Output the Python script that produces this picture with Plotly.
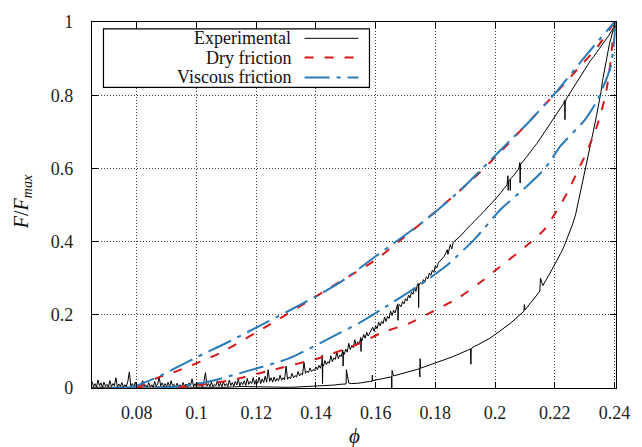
import plotly.graph_objects as go

# ---------------- data ----------------
# Experimental loop: loading branch (phi increasing), then unloading branch
EXP_LOADING = [
    (0.065, 0.018), (0.0655, 0.004), (0.066, 0.012), (0.0665, 0.003), (0.067, 0.022), (0.0675, 0.006),
    (0.068, 0.014), (0.0685, 0.002), (0.069, 0.016), (0.0695, 0.005), (0.070, 0.01), (0.0705, 0.003),
    (0.071, 0.02), (0.0715, 0.004), (0.072, 0.012), (0.0725, 0.006), (0.073, 0.028), (0.0735, 0.003),
    (0.074, 0.011), (0.0745, 0.004), (0.075, 0.015), (0.0755, 0.002), (0.076, 0.009), (0.0765, 0.004),
    (0.077, 0.018), (0.0775, 0.044), (0.078, 0.005), (0.0785, 0.012), (0.079, 0.003), (0.0795, 0.016),
    (0.080, 0.004), (0.0805, 0.01), (0.081, 0.002), (0.0815, 0.014), (0.082, 0.02), (0.0825, 0.005),
    (0.083, 0.008), (0.0835, 0.003), (0.084, 0.015), (0.0845, 0.004), (0.085, 0.009), (0.0855, 0.002),
    (0.086, 0.018), (0.0865, 0.005), (0.087, 0.011), (0.0875, 0.03), (0.088, 0.006), (0.0885, 0.014),
    (0.089, 0.003), (0.0895, 0.012), (0.090, 0.004), (0.0905, 0.016), (0.091, 0.003), (0.0915, 0.02),
    (0.092, 0.006), (0.0925, 0.01), (0.093, 0.002), (0.0935, 0.013), (0.094, 0.005), (0.0945, 0.009),
    (0.095, 0.002), (0.0955, 0.015), (0.096, 0.004), (0.0965, 0.011), (0.097, 0.003), (0.0975, 0.014),
    (0.098, 0.006), (0.0985, 0.025), (0.099, 0.004), (0.0995, 0.012), (0.100, 0.003), (0.1005, 0.015),
    (0.101, 0.005), (0.1015, 0.01), (0.102, 0.002), (0.1025, 0.018), (0.103, 0.042), (0.1035, 0.005),
    (0.104, 0.012), (0.1045, 0.004), (0.105, 0.016), (0.1055, 0.003), (0.106, 0.01), (0.1065, 0.006),
    (0.107, 0.02), (0.1075, 0.005), (0.108, 0.013), (0.1085, 0.004), (0.109, 0.017), (0.1095, 0.006),
    (0.110, 0.012), (0.1105, 0.004), (0.111, 0.022), (0.1115, 0.007), (0.112, 0.015), (0.1125, 0.005),
    (0.113, 0.018), (0.1135, 0.008), (0.114, 0.024), (0.1145, 0.006), (0.115, 0.016), (0.1155, 0.009),
    (0.116, 0.02), (0.1165, 0.007), (0.117, 0.026), (0.1175, 0.01), (0.118, 0.018), (0.1185, 0.012),
    (0.119, 0.028), (0.1195, 0.01), (0.120, 0.022), (0.1205, 0.013), (0.121, 0.03), (0.1215, 0.012),
    (0.122, 0.025), (0.1225, 0.015), (0.123, 0.032), (0.1235, 0.016), (0.124, 0.05), (0.1245, 0.018),
    (0.125, 0.028), (0.1255, 0.016), (0.126, 0.03), (0.1265, 0.018), (0.127, 0.026), (0.1275, 0.02),
    (0.128, 0.035), (0.1285, 0.021), (0.129, 0.028), (0.1295, 0.022), (0.130, 0.06), (0.1305, 0.024),
    (0.131, 0.03), (0.1315, 0.026), (0.132, 0.04), (0.1325, 0.028), (0.133, 0.034), (0.1335, 0.03),
    (0.134, 0.045), (0.1345, 0.033), (0.135, 0.04), (0.1355, 0.036), (0.136, 0.07), (0.1365, 0.04),
    (0.137, 0.046), (0.1375, 0.042), (0.138, 0.055), (0.1385, 0.045), (0.139, 0.05), (0.1395, 0.048),
    (0.140, 0.058), (0.1405, 0.05), (0.141, 0.062), (0.1415, 0.054), (0.142, 0.07),
    (0.1421, 0.09), (0.1422, 0.012), (0.1423, 0.065), (0.1425, 0.06), (0.143, 0.075), (0.1435, 0.064),
    (0.144, 0.072), (0.1445, 0.068), (0.145, 0.088), (0.1455, 0.072), (0.146, 0.082), (0.1465, 0.078),
    (0.147, 0.098), (0.1475, 0.08), (0.148, 0.09), (0.1485, 0.086), (0.149, 0.104), (0.1491, 0.06),
    (0.1492, 0.098), (0.1495, 0.092), (0.150, 0.106), (0.1505, 0.098), (0.151, 0.122), (0.1515, 0.105),
    (0.152, 0.116), (0.1525, 0.11), (0.153, 0.132), (0.1535, 0.115), (0.154, 0.126), (0.1545, 0.12),
    (0.155, 0.138), (0.1551, 0.1), (0.1552, 0.134), (0.1555, 0.13), (0.156, 0.146), (0.1565, 0.136),
    (0.157, 0.152), (0.1575, 0.142), (0.158, 0.15), (0.1585, 0.158), (0.159, 0.166), (0.1595, 0.155),
    (0.160, 0.17), (0.1605, 0.162), (0.161, 0.18), (0.1615, 0.17), (0.162, 0.182), (0.1625, 0.176),
    (0.163, 0.194), (0.1635, 0.182), (0.164, 0.196), (0.1645, 0.19), (0.165, 0.21), (0.1655, 0.198),
    (0.166, 0.212), (0.1665, 0.205), (0.167, 0.224), (0.1674, 0.23), (0.1675, 0.185), (0.1676, 0.222),
    (0.168, 0.228), (0.1685, 0.222), (0.169, 0.236), (0.1695, 0.23), (0.170, 0.244), (0.1705, 0.238),
    (0.171, 0.254), (0.1715, 0.246), (0.172, 0.262), (0.1725, 0.256), (0.173, 0.274), (0.1735, 0.264),
    (0.174, 0.283), (0.1743, 0.286), (0.1744, 0.22), (0.1745, 0.28), (0.175, 0.288), (0.1755, 0.284),
    (0.176, 0.296), (0.1765, 0.29), (0.177, 0.304), (0.1775, 0.298), (0.178, 0.314), (0.1785, 0.308),
    (0.179, 0.322), (0.1795, 0.316), (0.180, 0.334), (0.1805, 0.328), (0.181, 0.342), (0.182, 0.352),
    (0.183, 0.36),
    (0.184, 0.378), (0.1842, 0.365), (0.185, 0.392), (0.1855, 0.38), (0.186, 0.398), (0.187, 0.405),
    (0.188, 0.414), (0.189, 0.42), (0.190, 0.43), (0.191, 0.44), (0.192, 0.447), (0.193, 0.455),
    (0.194, 0.465), (0.195, 0.472), (0.196, 0.48), (0.197, 0.49), (0.198, 0.498), (0.199, 0.506),
    (0.200, 0.515), (0.201, 0.524), (0.202, 0.534), (0.203, 0.545), (0.204, 0.555), (0.2043, 0.58),
    (0.2044, 0.54), (0.2045, 0.565), (0.205, 0.57), (0.2051, 0.54), (0.2052, 0.572), (0.206, 0.578),
    (0.207, 0.588), (0.208, 0.6), (0.2083, 0.616), (0.2084, 0.56), (0.2085, 0.612), (0.209, 0.615),
    (0.210, 0.625), (0.211, 0.635), (0.212, 0.646), (0.213, 0.656), (0.214, 0.668), (0.215, 0.68),
    (0.216, 0.692), (0.217, 0.705), (0.218, 0.717), (0.219, 0.73), (0.220, 0.742), (0.221, 0.754),
    (0.222, 0.766), (0.223, 0.778), (0.2233, 0.786), (0.2234, 0.733), (0.2235, 0.782), (0.224, 0.792),
    (0.225, 0.805), (0.226, 0.818), (0.227, 0.83), (0.228, 0.845), (0.229, 0.858), (0.230, 0.87),
    (0.231, 0.882), (0.232, 0.895), (0.233, 0.905), (0.234, 0.915), (0.235, 0.928), (0.236, 0.94),
    (0.237, 0.95), (0.238, 0.962), (0.239, 0.975), (0.240, 0.99), (0.2402, 1.0),
]
EXP_UNLOADING = [
    (0.2402, 1.0), (0.2398, 0.985), (0.2393, 0.97), (0.2388, 0.955), (0.2383, 0.94), (0.2378, 0.92),
    (0.2374, 0.905), (0.237, 0.89), (0.2365, 0.865), (0.236, 0.84), (0.2355, 0.81), (0.235, 0.785),
    (0.234, 0.745), (0.233, 0.705), (0.232, 0.665), (0.231, 0.625), (0.230, 0.59), (0.229, 0.55),
    (0.228, 0.51), (0.227, 0.475), (0.226, 0.448), (0.225, 0.425), (0.224, 0.405), (0.223, 0.385),
    (0.222, 0.368), (0.221, 0.352), (0.220, 0.338), (0.219, 0.322), (0.218, 0.308), (0.217, 0.294),
    (0.216, 0.28), (0.2152, 0.3), (0.2151, 0.265), (0.215, 0.265), (0.214, 0.254), (0.213, 0.243),
    (0.212, 0.233), (0.211, 0.222), (0.210, 0.213), (0.2098, 0.228), (0.2097, 0.21), (0.209, 0.205),
    (0.208, 0.197), (0.207, 0.19), (0.206, 0.183), (0.205, 0.176), (0.204, 0.17), (0.203, 0.163),
    (0.202, 0.157), (0.201, 0.15), (0.200, 0.144), (0.199, 0.14), (0.198, 0.135), (0.197, 0.13),
    (0.196, 0.126), (0.195, 0.121), (0.194, 0.117), (0.193, 0.113), (0.192, 0.108), (0.1919, 0.065),
    (0.1918, 0.107), (0.191, 0.104), (0.190, 0.1), (0.189, 0.097), (0.188, 0.093), (0.187, 0.089),
    (0.186, 0.086), (0.185, 0.083), (0.184, 0.08), (0.183, 0.077), (0.182, 0.074), (0.181, 0.071),
    (0.180, 0.068), (0.179, 0.065), (0.178, 0.062), (0.177, 0.06), (0.176, 0.057), (0.175, 0.054),
    (0.1749, 0.08), (0.1748, 0.03), (0.1747, 0.053), (0.174, 0.051), (0.173, 0.049), (0.172, 0.046),
    (0.171, 0.044), (0.170, 0.042), (0.169, 0.04), (0.168, 0.037), (0.167, 0.035), (0.166, 0.033),
    (0.1655, 0.048), (0.1654, 0.0), (0.1653, 0.031), (0.165, 0.03), (0.164, 0.028), (0.163, 0.027),
    (0.162, 0.024), (0.161, 0.023), (0.160, 0.021), (0.159, 0.02), (0.1589, 0.035), (0.1588, 0.018),
    (0.158, 0.018), (0.157, 0.016), (0.156, 0.015), (0.155, 0.014), (0.154, 0.013), (0.153, 0.012),
    (0.152, 0.012), (0.151, 0.0135), (0.1502, 0.05), (0.1501, 0.011), (0.150, 0.011), (0.148, 0.01),
    (0.146, 0.008), (0.144, 0.007), (0.142, 0.006), (0.140, 0.005), (0.138, 0.004), (0.136, 0.004),
    (0.134, 0.003), (0.132, 0.002), (0.130, 0.002), (0.125, 0.003), (0.120, 0.002), (0.115, 0.004),
    (0.110, 0.002), (0.105, 0.003), (0.100, 0.002), (0.090, 0.003), (0.080, 0.002), (0.070, 0.003),
    (0.065, 0.002),
]

DRY_LOADING = [
    (0.080, 0.0), (0.0867, 0.027), (0.0943, 0.049), (0.1077, 0.095), (0.1267, 0.184),
    (0.1467, 0.284), (0.160, 0.35), (0.1677, 0.4), (0.181, 0.489), (0.192, 0.567),
    (0.200, 0.63), (0.2233, 0.832), (0.2277, 0.872), (0.2343, 0.932), (0.240, 1.0),
]
DRY_UNLOADING = [
    (0.240, 1.0), (0.2385, 0.88), (0.237, 0.8), (0.2343, 0.72), (0.231, 0.65), (0.2275, 0.59),
    (0.2243, 0.535), (0.2167, 0.435), (0.211, 0.392), (0.201, 0.327), (0.1943, 0.284),
    (0.1877, 0.246), (0.1777, 0.203), (0.171, 0.176), (0.162, 0.151), (0.1553, 0.124),
    (0.142, 0.084), (0.1253, 0.049), (0.112, 0.022), (0.101, 0.008), (0.090, 0.0), (0.070, 0.0),
]

VISC_LOADING = [
    (0.078, 0.0), (0.087, 0.03), (0.100, 0.084), (0.110, 0.123), (0.120, 0.165), (0.130, 0.207),
    (0.140, 0.25), (0.1487, 0.292), (0.160, 0.36), (0.1767, 0.459), (0.1887, 0.543),
    (0.1977, 0.616), (0.205, 0.676), (0.211, 0.724), (0.221, 0.814), (0.231, 0.914), (0.240, 1.0),
]
VISC_UNLOADING = [
    (0.2402, 1.0), (0.240, 0.96), (0.2387, 0.878), (0.2343, 0.787), (0.230, 0.732), (0.222, 0.662),
    (0.2167, 0.6), (0.211, 0.554), (0.202, 0.489), (0.1933, 0.408), (0.1843, 0.338),
    (0.1767, 0.292), (0.162, 0.215), (0.155, 0.18), (0.1477, 0.149), (0.131, 0.081),
    (0.1143, 0.04), (0.1033, 0.016), (0.092, 0.003), (0.081, 0.0), (0.070, 0.0),
]

X_TICKS = [0.08, 0.10, 0.12, 0.14, 0.16, 0.18, 0.20, 0.22, 0.24]
X_TICK_TEXT = ["0.08", "0.1", "0.12", "0.14", "0.16", "0.18", "0.2", "0.22", "0.24"]
Y_TICKS = [0, 0.2, 0.4, 0.6, 0.8, 1.0]
Y_TICK_TEXT = ["0", "0.2", "0.4", "0.6", "0.8", "1"]

LEGEND_LABELS = ["Experimental", "Dry friction", "Viscous friction"]

# ---------------- styles ----------------
FONT = "Liberation Serif, Times New Roman, DejaVu Serif, serif"
RED = "#d7191c"
BLUE = "#2a7ab9"
RED_DASH = "9px,11px"
BLUE_DASH = "25px,7px,4px,7px"


def xs(pairs):
    return [p[0] for p in pairs]


def ys(pairs):
    return [p[1] for p in pairs]


fig = go.Figure()

exp = EXP_LOADING + EXP_UNLOADING
fig.add_trace(go.Scatter(x=xs(exp), y=ys(exp), mode="lines",
                         line=dict(color="black", width=1), showlegend=False,
                         name="Experimental"))
for pairs in (DRY_LOADING, DRY_UNLOADING):
    fig.add_trace(go.Scatter(x=xs(pairs), y=ys(pairs), mode="lines",
                             line=dict(color=RED, width=2, dash=RED_DASH, shape="spline", smoothing=0.6),
                             showlegend=False, name="Dry friction"))
for pairs in (VISC_LOADING, VISC_UNLOADING):
    fig.add_trace(go.Scatter(x=xs(pairs), y=ys(pairs), mode="lines",
                             line=dict(color=BLUE, width=2, dash=BLUE_DASH, shape="spline", smoothing=0.6),
                             showlegend=False, name="Viscous friction"))

axis_common = dict(
    showline=True, linecolor="black", linewidth=1.2, mirror="ticks",
    ticks="inside", ticklen=6, tickcolor="black", tickwidth=1,
    showgrid=True, gridcolor="rgba(40,40,40,0.9)", gridwidth=1, griddash="1px,2px",
    zeroline=False, tickfont=dict(family=FONT, size=18, color="#222"),
)
fig.update_xaxes(range=[0.065, 0.2405], tickvals=X_TICKS, ticktext=X_TICK_TEXT,
                 ticklabelstandoff=8, **axis_common)
fig.update_yaxes(range=[0, 1.0], tickvals=Y_TICKS, ticktext=Y_TICK_TEXT,
                 ticklabelstandoff=14, **axis_common)

# ---------------- manual legend (text left of sample, as in the reference) ----------------
W, H, L, T = 525.0, 370.0, 92.0, 18.0


def px(xp):
    return (xp - L) / W


def py(yp):
    return (T + H - yp) / H


fig.add_shape(type="rect", xref="paper", yref="paper",
              x0=px(103.5), x1=px(370), y0=py(84), y1=py(25),
              line=dict(color="black", width=1.2), fillcolor="white", layer="above")
row_y = [34.5, 54.0, 74.0]
styles = [dict(color="black", width=1), dict(color=RED, width=2, dash=RED_DASH),
          dict(color=BLUE, width=2, dash=BLUE_DASH)]
for lab, yy, st in zip(LEGEND_LABELS, row_y, styles):
    fig.add_annotation(xref="paper", yref="paper", x=px(293), y=py(yy), text=lab,
                       showarrow=False, xanchor="right", yanchor="middle",
                       font=dict(family=FONT, size=18, color="#111"))
    fig.add_shape(type="line", xref="paper", yref="paper", x0=px(305), x1=px(359),
                  y0=py(yy), y1=py(yy), line=st, layer="above")

# axis titles
fig.add_annotation(xref="paper", yref="paper", x=px(355), y=py(437), text="<i>ϕ</i>",
                   showarrow=False, xanchor="center", yanchor="middle",
                   font=dict(family=FONT, size=21, color="#111"))
fig.add_annotation(xref="paper", yref="paper", x=px(22), y=py(200),
                   text="<i>F</i>/<i>F</i><sub><i>max</i></sub>", textangle=-90,
                   showarrow=False, xanchor="center", yanchor="middle",
                   font=dict(family=FONT, size=20, color="#111"))

fig.update_layout(
    width=642, height=447,
    margin=dict(l=92, r=25, t=18, b=59),
    paper_bgcolor="white", plot_bgcolor="white",
    showlegend=False,
)

fig.write_html("out.html")
